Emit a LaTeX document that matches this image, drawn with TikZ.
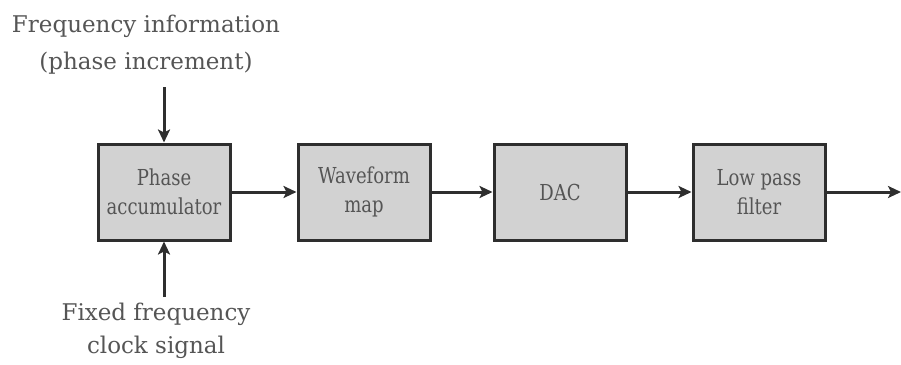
\documentclass[tikz,border=0pt]{standalone}
\usepackage{fontspec}
\setmainfont{DejaVu Serif}
\newfontfamily\boxfont[FakeStretch=0.82]{DejaVu Serif}
\usetikzlibrary{arrows.meta}
\definecolor{boxfill}{HTML}{D2D2D2}
\definecolor{edge}{HTML}{2E2E2E}
\definecolor{txt}{HTML}{555555}
\begin{document}
\begin{tikzpicture}[x=1pt,y=-1pt,
  blk/.style={draw=edge,line width=3pt,fill=boxfill,minimum width=132pt,minimum height=96pt,inner sep=0pt,
    align=center,text=txt,font=\boxfont\fontsize{22}{29}\selectfont},
  lbl/.style={align=center,text=txt,font=\fontsize{23}{37}\selectfont,inner sep=0pt},
  conn/.style={draw=edge,line width=3pt,-{Stealth[length=13pt,width=12pt,inset=3pt]}}]
\useasboundingbox (0,0) rectangle (901,364);
\node[blk] (pa) at (164,192) {Phase\\accumulator};
\node[blk] (wm) at (364,192) {Waveform\\map};
\node[blk] (dac) at (560,192) {DAC};
\node[blk] (lpf) at (759,192) {Low pass\\filter};
\node[lbl] (fi) at (146,45) {Frequency information\\(phase increment)};
\node[lbl,font=\fontsize{23}{33}\selectfont] (ck) at (156,331) {Fixed frequency\\clock signal};
\coordinate (ti) at (164,87);
\coordinate (bi) at (164,297);
\coordinate (out) at (901,192);
\draw[conn] (ti) -- (pa.north);
\draw[conn] (bi) -- (pa.south);
\draw[conn] (pa) -- (wm);
\draw[conn] (wm) -- (dac);
\draw[conn] (dac) -- (lpf);
\draw[conn] (lpf) -- (out);
\end{tikzpicture}
\end{document}
